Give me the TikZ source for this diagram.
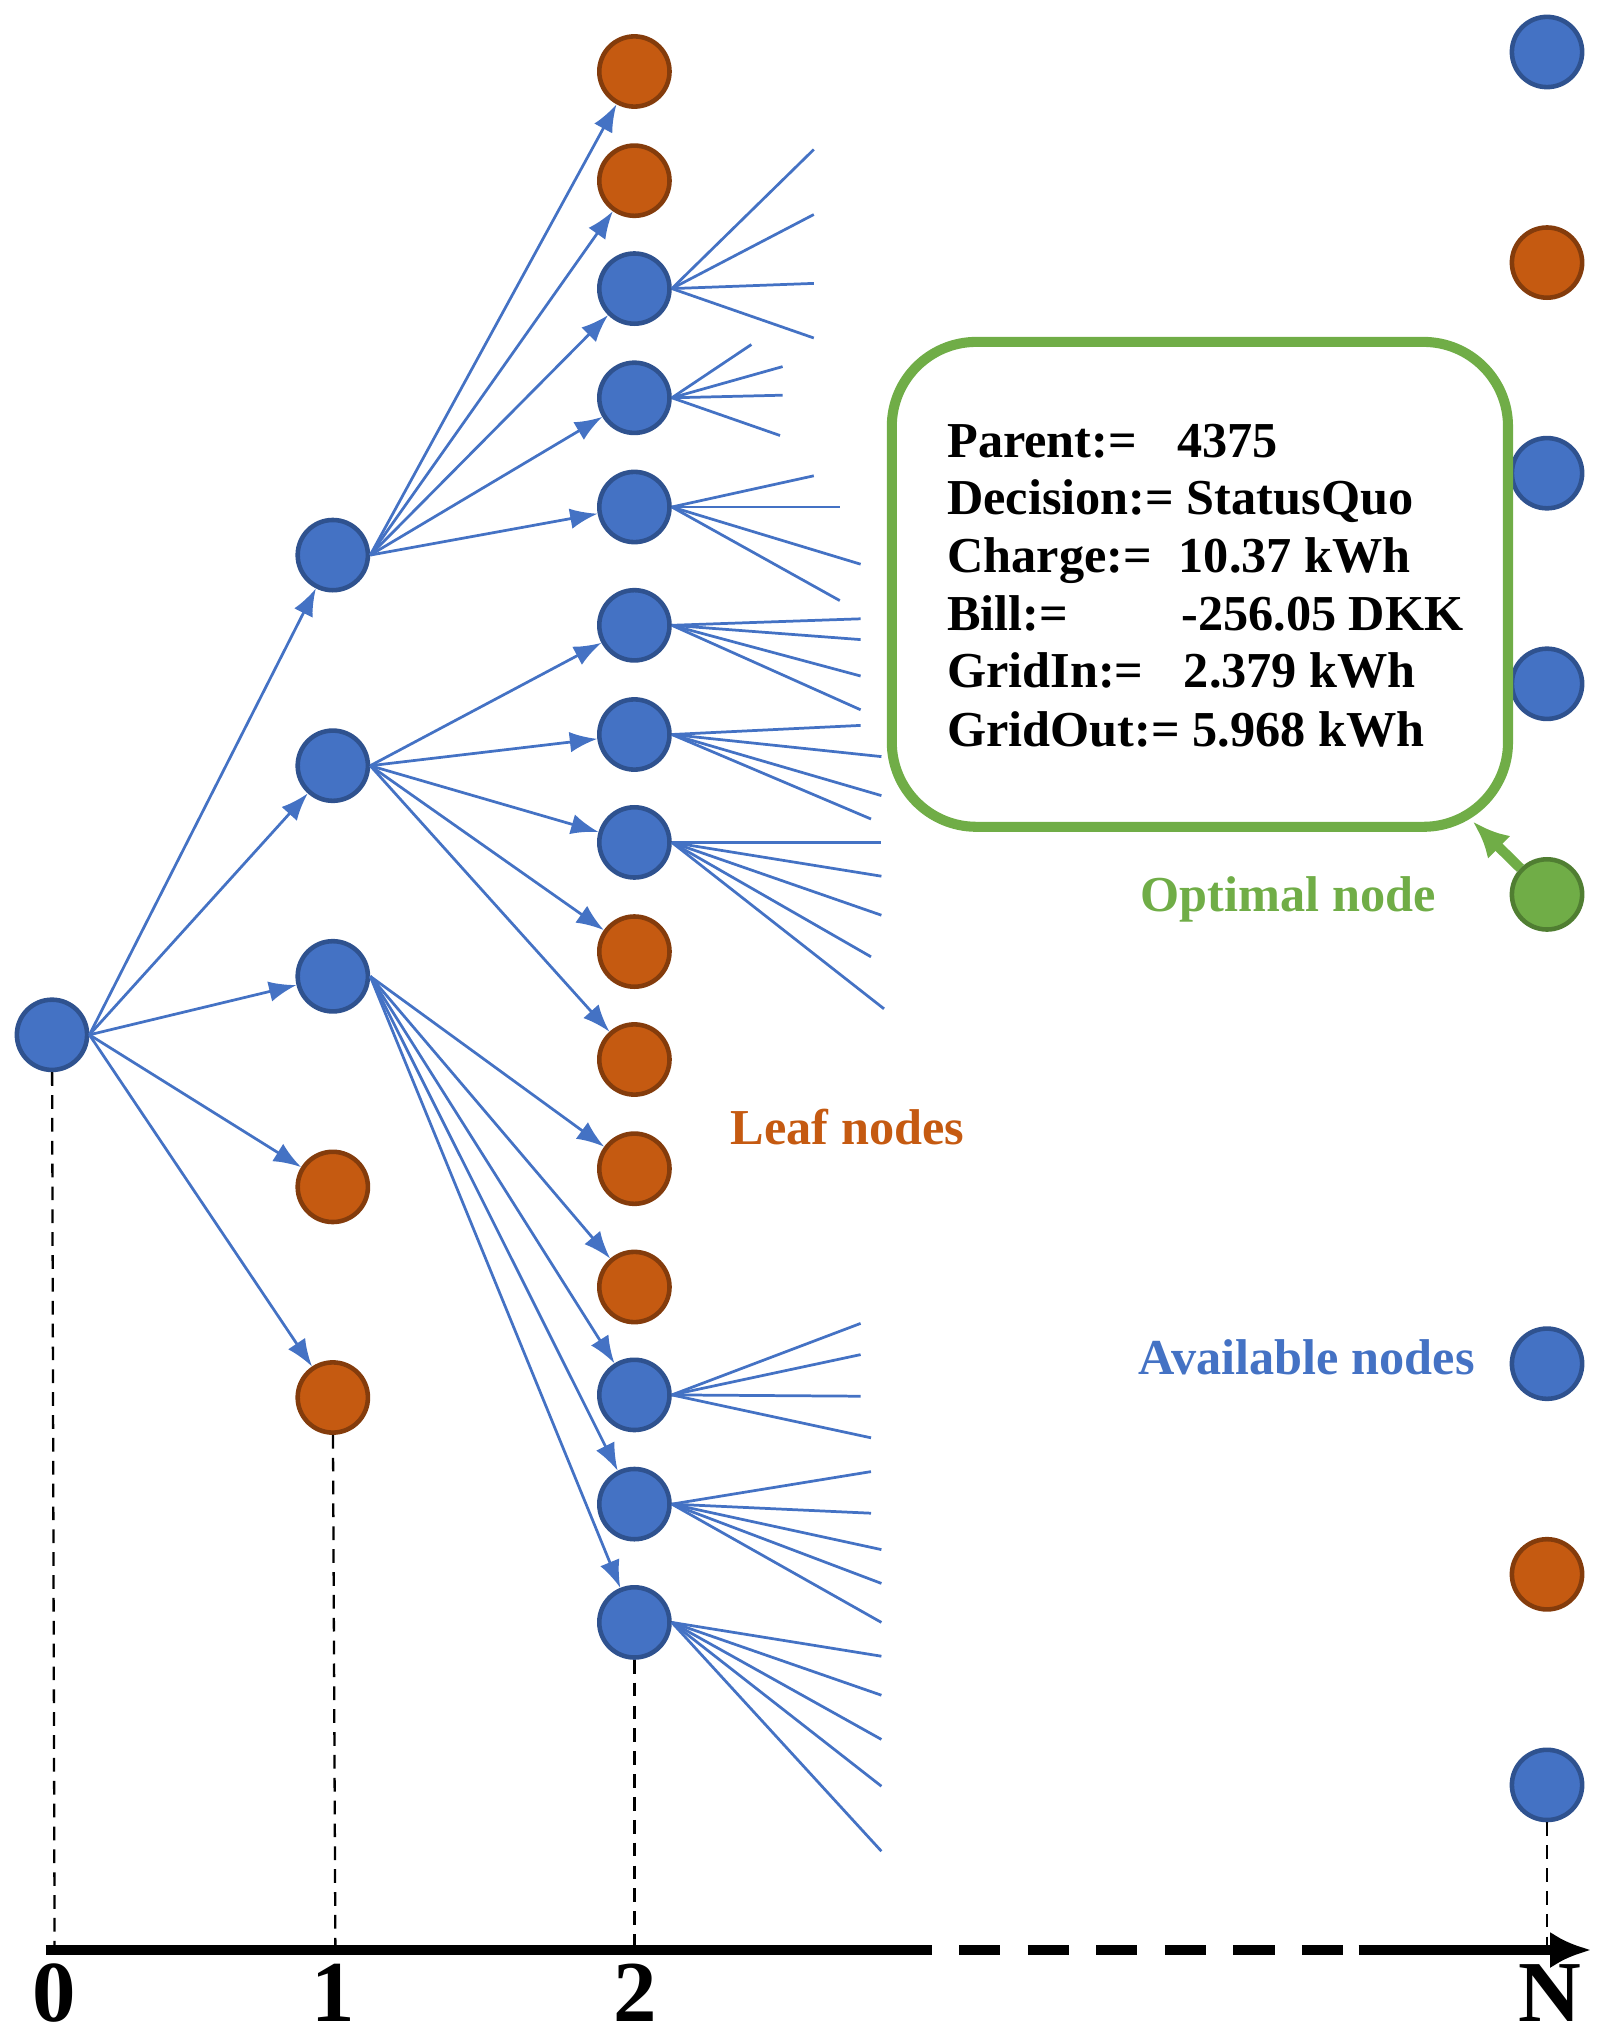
\documentclass[tikz,border=0pt]{standalone}
\usepackage{fontspec}
\setmainfont{Liberation Serif}
\usetikzlibrary{arrows.meta}
\definecolor{cb}{HTML}{4472C4}\definecolor{cbd}{HTML}{2F528F}
\definecolor{co}{HTML}{C55A11}\definecolor{cod}{HTML}{843C0C}
\definecolor{cg}{HTML}{70AD47}\definecolor{cgd}{HTML}{507E32}
\begin{document}
\begin{tikzpicture}[x=0.01cm,y=-0.01cm,
 b/.style={circle,draw=cbd,fill=cb,line width=1pt,minimum size=0.54cm,inner sep=0pt},
 o/.style={circle,draw=cod,fill=co,line width=1pt,minimum size=0.54cm,inner sep=0pt},
 g/.style={circle,draw=cgd,fill=cg,line width=1pt,minimum size=0.54cm,inner sep=0pt},
 e/.style={cb,line width=0.6pt,-{Latex[length=6pt,width=4.5pt]}},
 f/.style={cb,line width=0.6pt},
 vd/.style={densely dashed,line width=0.5pt},
 t/.style={font=\bfseries\fontsize{11pt}{13pt}\selectfont,anchor=base west,inner sep=0pt},
 ax/.style={font=\bfseries\fontsize{19pt}{21pt}\selectfont,inner sep=0pt}]
\useasboundingbox (0,0) rectangle (1240,1570);
% nodes
\node[b] (r) at (40,796) {};
\node[b] (a1) at (256,427) {};\node[b] (a2) at (256,589) {};\node[b] (a3) at (256,751) {};
\node[o] (a4) at (256,913) {};\node[o] (a5) at (256,1075) {};
\foreach \y/\s [count=\i] in {55/o,139/o,222/b,306/b,390/b,481/b,565/b,648/b,732/o,815/o,899/o,990/o,1073/b,1157/b,1248/b}
  \node[\s] (c\i) at (488,\y) {};
\foreach \y/\s [count=\i] in {40/b,202/o,364/b,526/b,688/g,1049/b,1211/o,1373/b}
  \node[\s] (n\i) at (1190,\y) {};
% edges
\foreach \i in {1,...,5} \draw[e] (r.east) -- (a\i);
\foreach \i in {1,...,5} \draw[e] (a1.east) -- (c\i);
\foreach \i in {6,...,10} \draw[e] (a2.east) -- (c\i);
\foreach \i in {11,...,15} \draw[e] (a3.east) -- (c\i);
% fans
\foreach \k/\pts in {3/{626/115,626/165,626/218,626/260},
  4/{578/265,602/282,602/304,600/335},
  5/{626/366,646/390,662/434,646/462},
  6/{662/476,662/492,662/520,662/546},
  7/{662/558,678/582,678/612,670/630},
  8/{678/648,678/674,678/704,670/736,680/776},
  13/{662/1018,662/1042,662/1074,670/1106},
  14/{670/1132,670/1164,678/1192,678/1218,678/1248},
  15/{678/1274,678/1304,678/1338,678/1374,678/1424}}{
  \foreach \px/\py in \pts {\coordinate (q) at (\px,\py); \draw[f] (c\k.east) -- (q);}
}
% axis
\coordinate (x0) at (35,1500);\coordinate (x1) at (685,1500);
\coordinate (x2) at (1045,1500);\coordinate (x3) at (1224,1500);
\draw[line width=2pt] (x0) -- (x1);
\draw[line width=2pt,dash pattern=on 9pt off 6pt] (x1) -- (x2);
\draw[line width=2pt,-{Latex[length=9pt,width=8pt]}] (x2) -- (x3);
\coordinate (d0) at (42,1500);\coordinate (d1) at (258,1500);
\coordinate (d2) at (488,1500);\coordinate (d3) at (1190,1500);
\draw[vd] (r) -- (d0);\draw[vd] (a5) -- (d1);\draw[vd] (c15) -- (d2);\draw[vd] (n8) -- (d3);
\node[ax] (l0) at (42,1533) {0};\node[ax] (l1) at (256,1533) {1};
\node[ax] (l2) at (489,1533) {2};\node[ax] (lN) at (1192,1533) {N};
% box
\draw[cg,line width=2.2pt,rounded corners=0.65cm] (686,263) rectangle (1160,636);
\coordinate (bx) at (1133,632);
\draw[cg,line width=2.2pt,-{Latex[length=8pt,width=7pt]}] (n5) -- (bx);
\node[t] (p1) at (728,352) {Parent:=};\node[t] (p2) at (905,352) {4375};
\node[t] (p3) at (728,396) {Decision:= StatusQuo};
\node[t] (p4) at (728,440) {Charge:=};\node[t] (p5) at (906,440) {10.37 kWh};
\node[t] (p6) at (728,485) {Bill:=};\node[t] (p7) at (908,485) {-256.05 DKK};
\node[t] (p8) at (728,529) {GridIn:=};\node[t] (p9) at (910,529) {2.379 kWh};
\node[t] (p10) at (728,574) {GridOut:= 5.968 kWh};
% labels
\node[t,cg,anchor=base east] (on) at (1105,701) {Optimal node};
\node[t,co,anchor=base] (ln) at (652,880) {Leaf nodes};
\node[t,cb,anchor=base east] (av) at (1135,1057) {Available nodes};
\end{tikzpicture}
\end{document}
